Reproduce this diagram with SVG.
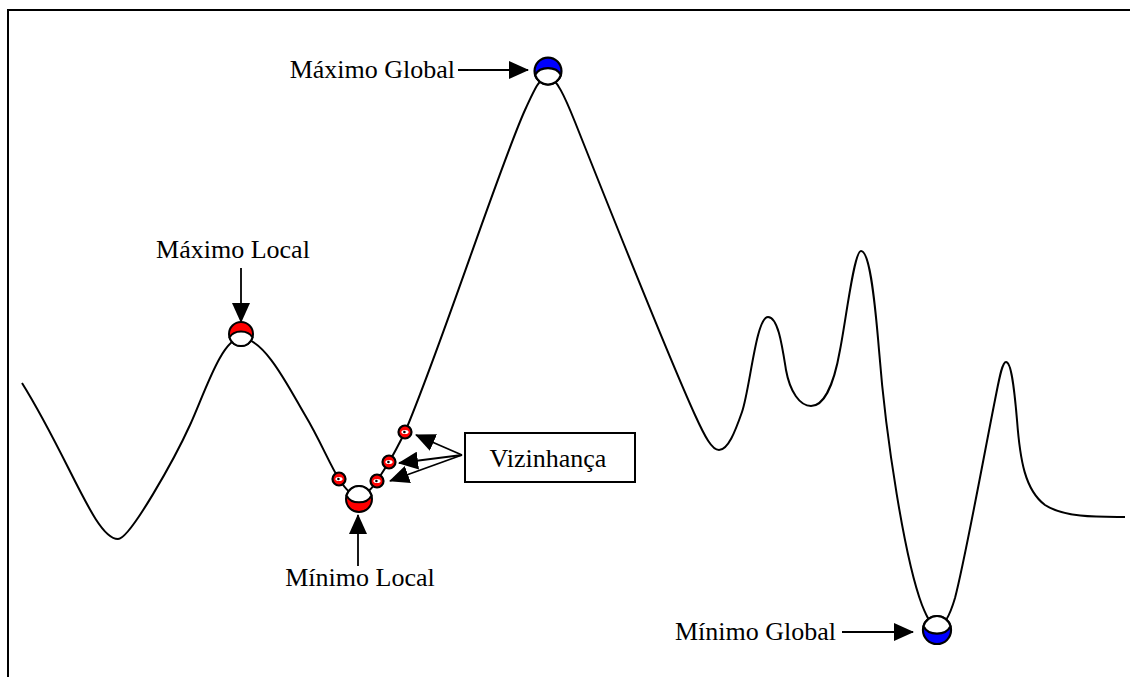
<svg xmlns="http://www.w3.org/2000/svg" width="1130" height="677" viewBox="0 0 1130 677">
  <style>
    .lbl { font-family: "Liberation Serif", "Times New Roman", serif; font-size: 26px; fill: #000; }
    .curve { fill: none; stroke: #000; stroke-width: 2; }
    .arrow { fill: none; stroke: #000; stroke-width: 1.8; marker-end: url(#head); }
    .ring { stroke: #000; stroke-width: 2; }
    .cap { fill: #fff; stroke: #000; stroke-width: 2; }
    .red { fill: #ff0000; }
    .blue { fill: #0000ff; }
    .frame { stroke: #000; stroke-width: 2; }
  </style>
  <defs>
    <marker id="head" markerUnits="userSpaceOnUse" markerWidth="20" markerHeight="18" refX="19" refY="9" orient="auto">
      <path d="M0,0 L20,9 L0,18 Z" fill="#000"/>
    </marker>
    <!-- maximum point: coloured top, white cap below -->
    <g id="peak">
      <circle r="12" class="ring"/>
      <path class="cap" d="M-11.5,3.5 A12.5 10 0 0 1 11.5,3.5 A12 12 0 0 1 -11.5,3.5 Z"/>
    </g>
    <!-- minimum point: coloured bottom, white cap above -->
    <g id="pit">
      <circle r="13" class="ring"/>
      <path class="cap" d="M-12.5,-3.5 A13.5 11 0 0 0 12.5,-3.5 A13 13 0 0 0 -12.5,-3.5 Z"/>
    </g>
    <!-- small neighbourhood point -->
    <g id="dot">
      <circle r="6.5" class="red" stroke="#000" stroke-width="2.2"/>
      <ellipse rx="3.6" ry="2.1" fill="#fff"/>
      <circle cx="-0.6" r="1.3" fill="#000"/>
    </g>
  </defs>

  <rect width="1130" height="677" fill="#fff"/>

  <!-- frame -->
  <g id="frame">
    <line class="frame" x1="7" y1="10" x2="1130" y2="10"/>
    <line class="frame" x1="8" y1="9" x2="8" y2="677"/>
  </g>

  <!-- landscape curve -->
  <g id="landscape">
    <path class="curve" d="M22,383
      C70,460 95,539 118,539
      C130,539 175,458 190,425
      C205,392 222,338 241,338
      C265,338 290,390 305,415
      C320,440 330,465 339,479
      C346,490 352,496 358,496
      C365,496 371,490 377,481
      C382,473 386,467 389,462
      C395,452 400,442 405,432
      C440,350 500,165 525,110
      C535,88 540,77 548,77
      C556,77 565,97 575,122
      C610,210 670,360 695,415
      C705,437 712,450 719,450
      C728,450 735,432 742,412
      C750,389 756,317 768,317
      C778,317 782,345 786,370
      C790,392 800,406 811,406
      C822,406 833,390 840,350
      C846,320 854,251 861,251
      C869,251 874,290 879,350
      C886,440 905,560 922,605
      C928,620 932,627 937,627
      C944,627 950,615 955,598
      C965,560 985,450 995,400
      C999,380 1002,362 1006,362
      C1011,362 1014,385 1017,420
      C1020,460 1025,490 1045,505
      C1065,518 1100,517 1125,517"/>
  </g>

  <!-- connectors -->
  <g id="connectors">
    <line class="arrow" x1="241" y1="268" x2="241" y2="322"/>
    <line class="arrow" x1="358" y1="566" x2="358" y2="515"/>
    <line class="arrow" x1="458" y1="70" x2="528" y2="70"/>
    <line class="arrow" x1="842" y1="632" x2="913" y2="632"/>
    <line class="arrow" x1="462" y1="455" x2="416" y2="435"/>
    <line class="arrow" x1="462" y1="455" x2="399" y2="463"/>
    <line class="arrow" x1="462" y1="455" x2="390" y2="481"/>
  </g>

  <!-- extremum markers -->
  <g id="max-local"><use href="#peak" x="241" y="334" class="red"/></g>
  <g id="max-global"><use href="#peak" x="548" y="71" class="blue" transform="translate(548 71) scale(1.12) translate(-548 -71)"/></g>
  <g id="min-local"><use href="#pit" x="359" y="499" class="red"/></g>
  <g id="min-global"><use href="#pit" x="937" y="630" class="blue" transform="translate(937 630) scale(1.08) translate(-937 -630)"/></g>

  <!-- neighbourhood points -->
  <g id="neighbours">
    <use href="#dot" x="339" y="479"/>
    <use href="#dot" x="377" y="481"/>
    <use href="#dot" x="389" y="462"/>
    <use href="#dot" x="405" y="432"/>
  </g>

  <!-- labels -->
  <g id="label-max-global"><text class="lbl" x="455" y="78" text-anchor="end">Máximo Global</text></g>
  <g id="label-max-local"><text class="lbl" x="233" y="258" text-anchor="middle">Máximo Local</text></g>
  <g id="label-min-local"><text class="lbl" x="360" y="586" text-anchor="middle">Mínimo Local</text></g>
  <g id="label-min-global"><text class="lbl" x="836" y="640" text-anchor="end">Mínimo Global</text></g>
  <g id="vizinhanca">
    <rect x="465" y="433" width="170" height="49" fill="#fff" stroke="#000" stroke-width="2"/>
    <text class="lbl" x="548" y="467" text-anchor="middle">Vizinhança</text>
  </g>
</svg>
